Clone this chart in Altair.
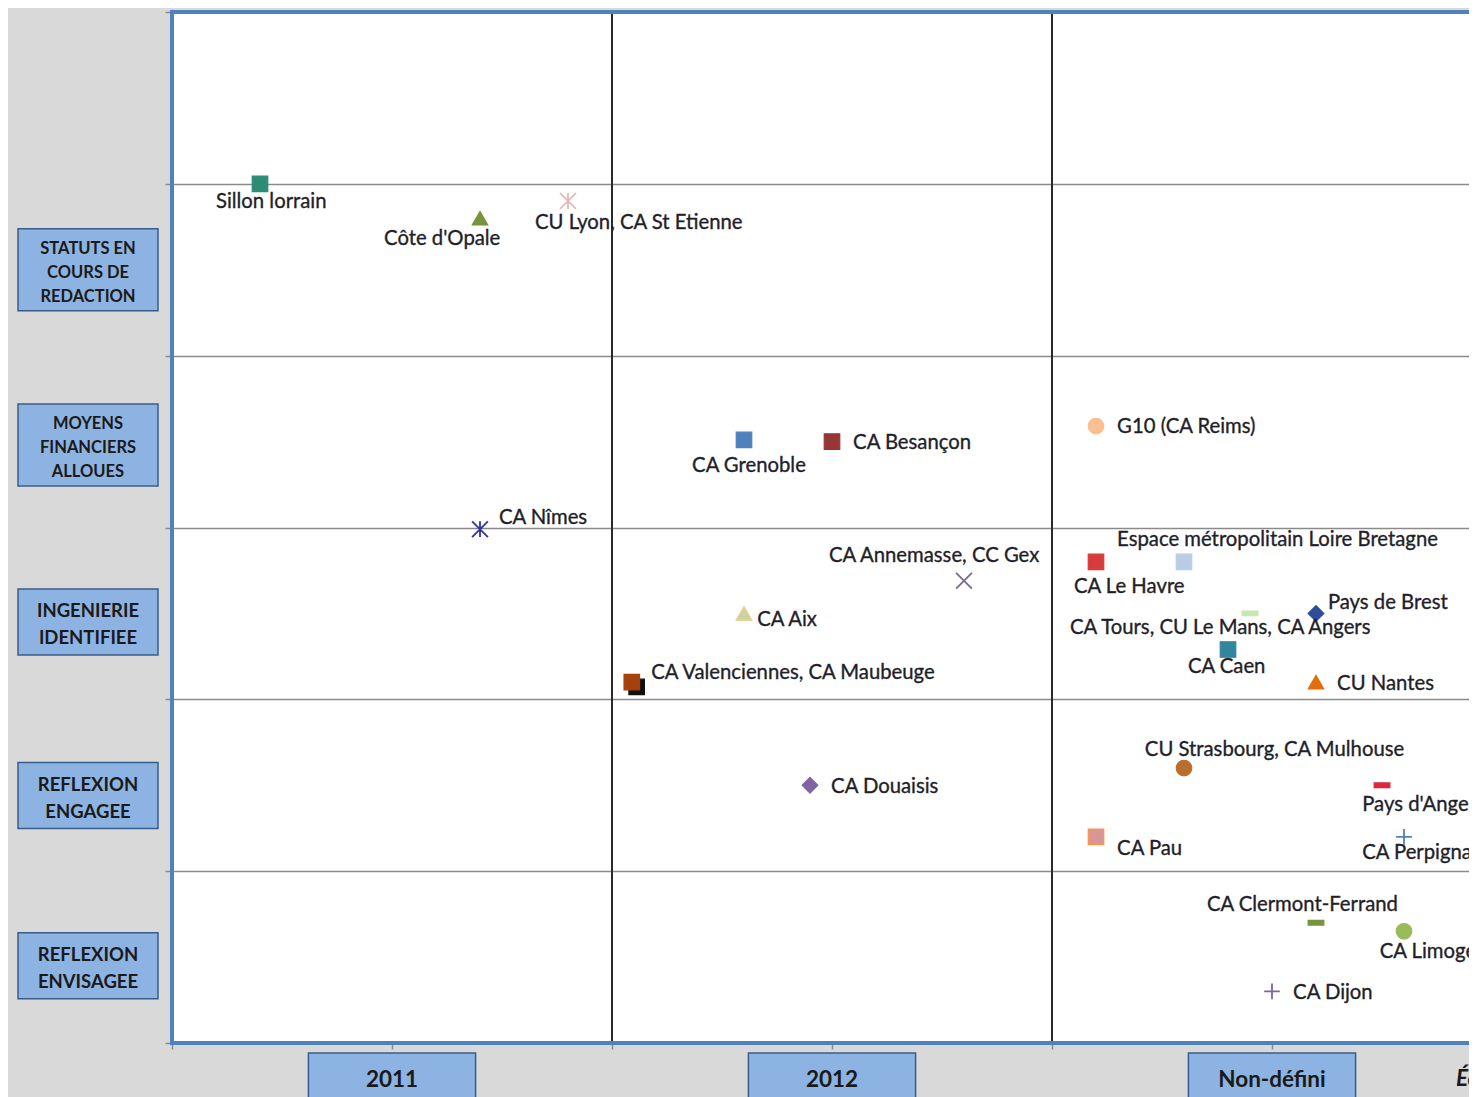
import altair as alt
import pandas as pd

# ---------------- data ----------------
series = [
    "Sillon lorrain", "Côte d'Opale", "CU Lyon, CA St Etienne", "CA Grenoble", "CA Besançon",
    "G10 (CA Reims)", "CA Nîmes", "CA Annemasse, CC Gex", "CA Aix", "CA Maubeuge", "CA Valenciennes",
    "CA Le Havre", "Espace métropolitain Loire Bretagne", "CA Tours, CU Le Mans, CA Angers",
    "Pays de Brest", "CA Caen", "CU Nantes", "CA Douaisis", "CU Strasbourg, CA Mulhouse",
    "Pays d'Angers", "CA Pau", "CA Perpignan", "CA Clermont-Ferrand", "CA Limoges", "CA Dijon",
]
x_vals = [0.70, 1.20, 1.40, 1.80, 2.00, 2.60, 1.20, 2.30, 1.80, 1.556, 1.545, 2.60, 2.80, 2.95,
          3.10, 2.90, 3.10, 1.95, 2.80, 3.25, 2.60, 3.30, 3.10, 3.30, 3.00]
y_vals = [5.00, 4.80, 4.90, 3.51, 3.50, 3.59, 2.99, 2.69, 2.50, 2.072, 2.10, 2.80, 2.80, 2.50,
          2.50, 2.29, 2.10, 1.50, 1.60, 1.50, 1.20, 1.20, 0.70, 0.65, 0.30]
markers = ["square", "triangle", "star", "square", "square", "circle", "star", "x", "triangle",
           "square", "square", "square", "square", "dash", "diamond", "square", "triangle",
           "diamond", "circle", "dash", "square", "plus", "dash", "circle", "plus"]

label_text = [
    "Sillon lorrain", "Côte d'Opale", "CU Lyon, CA St Etienne", "CA Grenoble", "CA Besançon",
    "G10 (CA Reims)", "CA Nîmes", "CA Annemasse, CC Gex", "CA Aix", "CA Valenciennes, CA Maubeuge",
    "CA Le Havre", "Espace métropolitain Loire Bretagne", "CA Tours, CU Le Mans, CA Angers",
    "Pays de Brest", "CA Caen", "CU Nantes", "CA Douaisis", "CU Strasbourg, CA Mulhouse",
    "Pays d'Angers", "CA Pau", "CA Perpignan", "CA Clermont-Ferrand", "CA Limoges", "CA Dijon",
]
label_x = [0.600, 0.982, 1.325, 1.682, 2.048, 2.648, 1.243, 1.993, 1.830, 1.589, 2.550, 2.648,
           2.541, 3.127, 2.809, 3.148, 1.998, 2.711, 3.205, 2.648, 3.205, 2.852, 3.245, 3.048]
label_y = [4.894, 4.679, 4.772, 3.358, 3.492, 3.585, 3.055, 2.834, 2.462, 2.153, 2.654, 2.927,
           2.415, 2.561, 2.188, 2.089, 1.490, 1.705, 1.385, 1.129, 1.106, 0.803, 0.530, 0.291]

row_labels = ["STATUTS EN\nCOURS DE\nREDACTION", "MOYENS\nFINANCIERS\nALLOUES",
              "INGENIERIE\nIDENTIFIEE", "REFLEXION\nENGAGEE", "REFLEXION\nENVISAGEE"]
row_pos = [4.5, 3.48, 2.45, 1.44, 0.45]

col_labels = ["2011", "2012", "Non-défini"]
col_pos = [1, 2, 3]
extra_label = ["Échéance"]
extra_pos = [3.418]

dividers = [1.5, 2.5]

# ---------------- styles ----------------
fill_colors = ["#2e8b74", "#77933c", "#e6b9b8", "#4f81bd", "#953735", "#fac090", "#34349a",
               "#7a6a94", "#c9d6a0", "#111111", "#a5410c", "#d83b3b", "#b9cde5", "#c4e8b0",
               "#2f4b9a", "#31859c", "#e46c0a", "#7f64a2", "#b96e2c", "#e0263a", "#d99694",
               "#4f81bd", "#77933c", "#9bbb59", "#8064a2"]
edge_colors = list(fill_colors)
edge_colors[series.index("CA Aix")] = "#f5c58a"
edge_colors[series.index("CA Pau")] = "#f79646"

marker_types = ["square", "triangle", "circle", "diamond", "dash", "plus", "x", "star"]
marker_shapes = ["square", "triangle-up", "circle", "diamond",
                 "M-1,-0.3L1,-0.3L1,0.3L-1,0.3Z",
                 "M-1,0L1,0M0,-1L0,1",
                 "M-1,-1L1,1M-1,1L1,-1",
                 "M-1,-1L1,1M-1,1L1,-1M0,-1L0,1"]
marker_sizes = [240, 250, 270, 380, 190, 240, 220, 230]
filled_types = ["square", "triangle", "circle", "diamond", "dash"]

PX_PER_X = 440
PLOT_W = 1297
PLOT_H = 1031
PX_PER_Y = PLOT_H / 6
X0 = 0.5
BLUE = "#4f81bd"

x_scale = alt.Scale(domain=[X0, X0 + PLOT_W / PX_PER_X], nice=False, zero=False)
y_scale = alt.Scale(domain=[0, 6], nice=False, zero=False)
shape_scale = alt.Scale(domain=marker_types, range=marker_shapes)
size_scale = alt.Scale(domain=marker_types, range=marker_sizes)
fill_scale = alt.Scale(domain=series, range=fill_colors)
edge_scale = alt.Scale(domain=series, range=edge_colors)

# ---------------- tables ----------------
pts = pd.DataFrame({"name": series, "x": x_vals, "y": y_vals, "marker": markers})
lbl = pd.DataFrame({"label": label_text, "lx": label_x, "ly": label_y})
rows = pd.DataFrame({"label": row_labels, "pos": row_pos})
rows["lines"] = rows["label"].str.count("\n") + 1
half = (17 + 8 * rows["lines"]) / PX_PER_Y
rows["lo"] = rows["pos"] - half
rows["hi"] = rows["pos"] + half
cols = pd.DataFrame({"label": col_labels, "pos": col_pos})
cols["lo"] = cols["pos"] - 0.19
cols["hi"] = cols["pos"] + 0.19
extra = pd.DataFrame({"label": extra_label, "pos": extra_pos})
div = pd.DataFrame({"x": dividers})

FONT = "Lato"
INK = "#1f1f2a"

y_axis = alt.Axis(values=[0, 1, 2, 3, 4, 5, 6], labels=False, ticks=True, tickSize=7,
                  tickColor="#8a8a8a", tickWidth=1.5, domain=False, grid=True,
                  gridColor="#8a8a8a", gridWidth=1.5, title=None)
x_axis = alt.Axis(values=[0.5, 1, 1.5, 2, 2.5, 3, 3.5], labels=False, ticks=True, tickSize=6,
                  tickColor="#8a8a8a", tickWidth=1.5, domain=False, grid=False, title=None)

vrules = alt.Chart(div).mark_rule(color="#2a2a2a", strokeWidth=2).encode(
    x=alt.X("x:Q", scale=x_scale, axis=x_axis),
    y=alt.value(0), y2=alt.value(PLOT_H),
)

# plot-area frame (left, top, bottom; the right side runs off the picture)
frame_left = alt.Chart(div).mark_rule(color=BLUE, strokeWidth=4).encode(
    x=alt.value(0), y=alt.value(-2), y2=alt.value(PLOT_H + 2))
frame_top = alt.Chart(div).mark_rule(color=BLUE, strokeWidth=4).encode(
    x=alt.value(-2), x2=alt.value(PLOT_W + 10), y=alt.value(0))
frame_bottom = alt.Chart(div).mark_rule(color=BLUE, strokeWidth=4).encode(
    x=alt.value(-2), x2=alt.value(PLOT_W + 10), y=alt.value(PLOT_H))

row_boxes = alt.Chart(rows).mark_rect(fill="#8db3e2", stroke="#385d8a", strokeWidth=1.5).encode(
    x=alt.value(-154), x2=alt.value(-14),
    y=alt.Y("hi:Q", scale=y_scale, axis=y_axis), y2="lo:Q",
)
row_text3 = alt.Chart(rows).transform_filter("datum.lines == 3").mark_text(
    font=FONT, fontWeight="bold", fontSize=16.5, lineHeight=24, lineBreak="\n",
    color="#1a1a1a", align="center", baseline="middle", dy=-21,
).encode(x=alt.value(-84), y=alt.Y("pos:Q", scale=y_scale), text="label:N")
row_text2 = alt.Chart(rows).transform_filter("datum.lines == 2").mark_text(
    font=FONT, fontWeight="bold", fontSize=18.5, lineHeight=27, lineBreak="\n",
    color="#1a1a1a", align="center", baseline="middle", dy=-11,
).encode(x=alt.value(-84), y=alt.Y("pos:Q", scale=y_scale), text="label:N")

col_boxes = alt.Chart(cols).mark_rect(fill="#8db3e2", stroke="#385d8a", strokeWidth=1.5).encode(
    x=alt.X("lo:Q", scale=x_scale), x2="hi:Q",
    y=alt.value(PLOT_H + 10), y2=alt.value(PLOT_H + 80),
)
col_text = alt.Chart(cols).mark_text(
    font=FONT, fontWeight="bold", fontSize=22.5, color="#1a1a1a", align="center", baseline="middle",
).encode(x=alt.X("pos:Q", scale=x_scale), y=alt.value(PLOT_H + 37), text="label:N")
extra_text = alt.Chart(extra).mark_text(
    font=FONT, fontWeight="bold", fontStyle="italic", fontSize=22.5, color="#1a1a1a",
    align="left", baseline="middle",
).encode(x=alt.X("pos:Q", scale=x_scale), y=alt.value(PLOT_H + 36), text="label:N")

filled_pts = alt.Chart(pts).transform_filter(
    alt.FieldOneOfPredicate(field="marker", oneOf=filled_types)
).mark_point(filled=True, opacity=1, strokeWidth=1.2).encode(
    x=alt.X("x:Q", scale=x_scale), y=alt.Y("y:Q", scale=y_scale),
    shape=alt.Shape("marker:N", scale=shape_scale, legend=None),
    size=alt.Size("marker:N", scale=size_scale, legend=None),
    fill=alt.Fill("name:N", scale=fill_scale, legend=None),
    stroke=alt.Stroke("name:N", scale=edge_scale, legend=None),
)
line_pts = alt.Chart(pts).transform_filter(
    alt.FieldOneOfPredicate(field="marker", oneOf=[m for m in marker_types if m not in filled_types])
).mark_point(filled=False, opacity=1, strokeWidth=1.8).encode(
    x=alt.X("x:Q", scale=x_scale), y=alt.Y("y:Q", scale=y_scale),
    shape=alt.Shape("marker:N", scale=shape_scale, legend=None),
    size=alt.Size("marker:N", scale=size_scale, legend=None),
    stroke=alt.Stroke("name:N", scale=edge_scale, legend=None),
)

labels = alt.Chart(lbl).mark_text(
    font=FONT, fontSize=20.3, color=INK, stroke=INK, strokeWidth=0.35,
    align="left", baseline="middle",
).encode(x=alt.X("lx:Q", scale=x_scale), y=alt.Y("ly:Q", scale=y_scale), text="label:N")

chart = alt.layer(
    vrules, row_boxes, row_text3, row_text2, col_boxes, col_text, extra_text,
    frame_left, frame_top, frame_bottom,
    filled_pts, line_pts, labels,
).properties(
    width=PLOT_W, height=PLOT_H,
    padding={"left": 164, "top": 4, "right": 0, "bottom": 54},
    autosize=alt.AutoSizeParams(type="none"),
    background="#d9d9d9",
).configure_view(strokeWidth=0, fill="white")

chart.save("out.html", embed_options={"renderer": "svg", "actions": False})
